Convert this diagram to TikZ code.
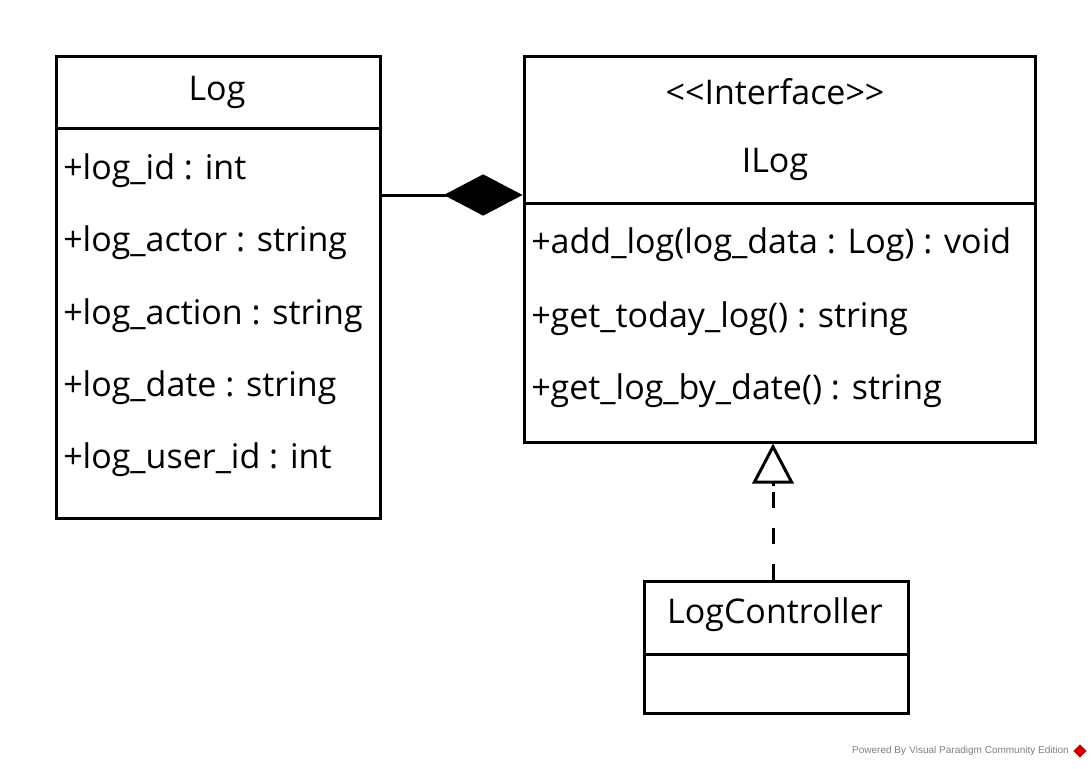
\documentclass[tikz,border=0pt]{standalone}
\usepackage{fontspec}
\setmainfont{Open Sans}
\newfontfamily\wmfont{Liberation Sans}
\usetikzlibrary{arrows.meta,shapes.geometric}
\begin{document}
\begin{tikzpicture}[x=0.75pt,y=-0.75pt,
  cls/.style={draw,line width=2.25pt,minimum width=#1*0.75pt,inner sep=0pt},
  txt/.style={anchor=west,inner sep=0pt,font=\fontsize{25.5}{30}\selectfont},
  ttl/.style={inner sep=0pt,font=\fontsize{25.5}{30}\selectfont},
  conn/.style={line width=2.25pt}]
\useasboundingbox[fill=white] (0,0) rectangle (1092,768);
% Log
\node[cls=324,minimum height=462*0.75pt] (log) at (218,287) {};
\draw[line width=2.25pt] (56,128) -- (380,128);
\node[ttl] (logname) at (217,92) {Log};
\node[txt] (a1) at (63,171) {+log\_id : int};
\node[txt] (a2) at (63,243) {+log\_actor : string};
\node[txt] (a3) at (63,316) {+log\_action : string};
\node[txt] (a4) at (63,388) {+log\_date : string};
\node[txt] (a5) at (63,460) {+log\_user\_id : int};
% ILog
\node[cls=511,minimum height=386*0.75pt] (ilog) at (779.5,249) {};
\draw[line width=2.25pt] (524,203) -- (1035,203);
\node[ttl] (stereo) at (775,92) {<{}<Interface>{}>};
\node[ttl] (ilogname) at (775,164) {ILog};
\node[txt] (m1) at (531,245) {+add\_log(log\_data : Log) : void};
\node[txt] (m2) at (531,319) {+get\_today\_log() : string};
\node[txt] (m3) at (531,391) {+get\_log\_by\_date() : string};
% LogController
\node[cls=264,minimum height=132*0.75pt] (lc) at (776,647) {};
\draw[line width=2.25pt] (644,654) -- (908,654);
\node[ttl] (lcname) at (775,615) {LogController};
% composition
\draw[conn,-{Diamond[length=59pt,width=31pt,line width=0pt]}] (log.east |- 0,195) -- (ilog.west |- 0,195);
% realization
\coordinate (lctop) at (773,581);
\draw[conn,dash pattern=on 12pt off 15pt] (lc.north -| lctop) -- (773,484);
\draw[conn,-{Triangle[open,length=30pt,width=31pt,line width=2.25pt]}] (773,486) -- (ilog.south -| lctop);
% watermark
\node[anchor=east,inner sep=0pt,text=gray,font=\wmfont\fontsize{7.5}{9}\selectfont] (wm) at (1069,751) {Powered By\,\,Visual Paradigm Community Edition};
\node[diamond,fill=red!80!black,minimum size=10pt,inner sep=0pt] (wmicon) at (1080,751) {};
\end{tikzpicture}
\end{document}
